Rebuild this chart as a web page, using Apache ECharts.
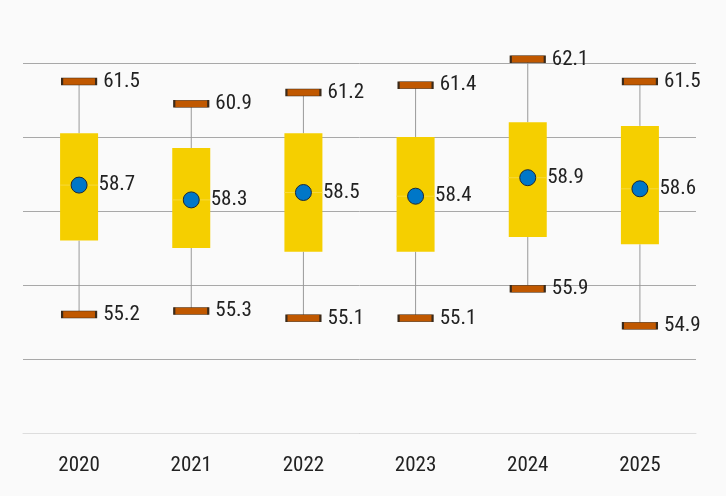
<!DOCTYPE html>
<html>
<head>
<meta charset="utf-8">
<script src="https://cdn.jsdelivr.net/npm/echarts@6/dist/echarts.min.js"></script>
<style>
html,body{margin:0;padding:0;background:#fafafa;}
#c{width:726px;height:496px;}
</style>
</head>
<body>
<div id="c"></div>
<script>
var categories = ['2020','2021','2022','2023','2024','2025'];
var whiskerHigh = [61.5, 60.9, 61.2, 61.4, 62.1, 61.5];
var whiskerLow = [55.2, 55.3, 55.1, 55.1, 55.9, 54.9];
var boxHigh = [60.1, 59.7, 60.1, 60.0, 60.4, 60.3];
var boxLow = [57.2, 57.0, 56.9, 56.9, 57.3, 57.1];
var means = [58.7, 58.3, 58.5, 58.4, 58.9, 58.6];

var FONT = '"Roboto Condensed","Liberation Sans Narrow","DejaVu Sans Condensed",sans-serif';

var boxData = categories.map(function(c, i){ return [i, whiskerLow[i], boxLow[i], boxHigh[i], whiskerHigh[i], means[i]]; });

var chart = echarts.init(document.getElementById('c'));
chart.setOption({
  backgroundColor: '#fafafa',
  animation: false,
  grid: {left: 23, right: 30, top: 63, bottom: 63},
  xAxis: {
    type: 'category',
    data: categories,
    axisLine: {show: true, lineStyle: {color: '#dddddd'}},
    axisTick: {show: false},
    axisLabel: {color: '#222', fontSize: 21, fontFamily: FONT, margin: 22}
  },
  yAxis: {
    type: 'value',
    min: 52, max: 62, interval: 2,
    axisLabel: {show: false},
    axisLine: {show: false},
    axisTick: {show: false},
    splitLine: {lineStyle: {color: '#a8a8a8'}}
  },
  series: [
    {
      type: 'custom',
      data: boxData,
      clip: false,
      z: 2,
      renderItem: function(params, api){
        var x = api.value(0);
        var pLow = api.coord([x, api.value(1)]);
        var pQ1 = api.coord([x, api.value(2)]);
        var pQ3 = api.coord([x, api.value(3)]);
        var pHigh = api.coord([x, api.value(4)]);
        var pMean = api.coord([x, api.value(5)]);
        var w = 38;
        return {
          type: 'group',
          children: [
            {type: 'line', shape: {x1: pHigh[0], y1: pHigh[1], x2: pQ3[0], y2: pQ3[1]}, style: {stroke: '#999', lineWidth: 1}},
            {type: 'line', shape: {x1: pQ1[0], y1: pQ1[1], x2: pLow[0], y2: pLow[1]}, style: {stroke: '#999', lineWidth: 1}},
            {type: 'rect', shape: {x: pQ3[0] - w/2, y: pQ3[1], width: w, height: pQ1[1] - pQ3[1]}, style: {fill: '#f5cf00', stroke: null}},
            {type: 'line', shape: {x1: pMean[0] - w/2, y1: pMean[1], x2: pMean[0] + w/2, y2: pMean[1]}, style: {stroke: '#f8d93a', lineWidth: 1}}
          ]
        };
      }
    },
    {
      type: 'scatter',
      data: whiskerHigh.map(function(v, i){ return [i, v]; }),
      symbol: 'rect', symbolSize: [34, 7], clip: false, z: 3,
      itemStyle: {color: '#c05800', borderColor: '#3a2a1a', borderWidth: 1, opacity: 1},
      label: {show: true, position: 'right', distance: 6, color: '#222', fontSize: 21, fontFamily: FONT,
        formatter: function(p){ return p.value[1].toFixed(1); }}
    },
    {
      type: 'scatter',
      data: whiskerLow.map(function(v, i){ return [i, v]; }),
      symbol: 'rect', symbolSize: [34, 7], clip: false, z: 3,
      itemStyle: {color: '#c05800', borderColor: '#3a2a1a', borderWidth: 1, opacity: 1},
      label: {show: true, position: 'right', distance: 6, color: '#222', fontSize: 21, fontFamily: FONT,
        formatter: function(p){ return p.value[1].toFixed(1); }}
    },
    {
      type: 'scatter',
      data: means.map(function(v, i){ return [i, v]; }),
      symbol: 'circle', symbolSize: 16, clip: false, z: 4,
      itemStyle: {color: '#0077c8', borderColor: '#1a2a3a', borderWidth: 1, opacity: 1},
      label: {show: true, position: 'right', distance: 11, color: '#222', fontSize: 21, fontFamily: FONT,
        formatter: function(p){ return p.value[1].toFixed(1); }}
    }
  ]
});
</script>
</body>
</html>
